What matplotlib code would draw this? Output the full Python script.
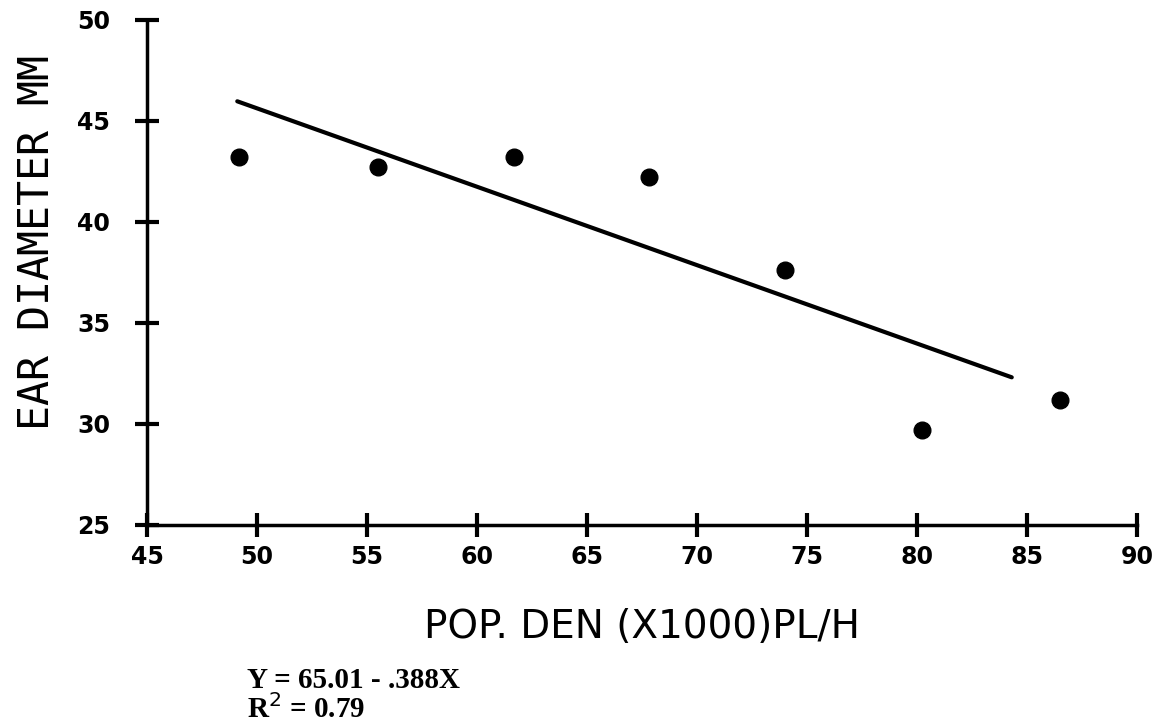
import matplotlib
matplotlib.use("Agg")
import matplotlib.pyplot as plt
import numpy as np

# population density (x1000 plants/ha) and ear diameter (mm)
pop_den = [49.2, 55.5, 61.7, 67.8, 74.0, 80.2, 86.5]
ear_diam = [43.2, 42.7, 43.2, 42.2, 37.6, 29.7, 31.2]

# fitted line Y = 65.01 - .388X drawn over the data range
intercept = 65.01
slope = -0.388
fit_x = [49.1, 84.3]

x_ticks = [45, 50, 55, 60, 65, 70, 75, 80, 85, 90]
y_ticks = [25, 30, 35, 40, 45, 50]

fig = plt.figure(figsize=(11.58, 7.27), dpi=100)
ax = fig.add_axes([0.127, 0.278, 0.855, 0.695])

ax.plot(pop_den, ear_diam, "o", color="black", markersize=12)
fx = np.array(fit_x)
ax.plot(fx, intercept + slope * fx, color="black", linewidth=3, solid_capstyle="round")

ax.set_xlim(45, 90)
ax.set_ylim(25, 50)
ax.set_xticks(x_ticks)
ax.set_yticks(y_ticks)
ax.spines["top"].set_visible(False)
ax.spines["right"].set_visible(False)
for s in ["left", "bottom"]:
    ax.spines[s].set_linewidth(2.5)
ax.tick_params(direction="inout", length=17, width=3, labelsize=17)
ax.tick_params(axis="x", pad=6)
ax.tick_params(axis="y", pad=18)
for lab in ax.get_xticklabels() + ax.get_yticklabels():
    lab.set_fontweight("bold")

ax.set_ylabel("EAR DIAMETER MM", fontsize=30, family="DejaVu Sans Mono",
              fontweight="light")
ax.yaxis.set_label_coords(-0.09, 0.558)
ax.set_xlabel("POP. DEN (X1000)PL/H", fontsize=28, labelpad=28)

fig.text(0.213, 0.012, "Y = 65.01 - .388X\nR$^2$ = 0.79", fontsize=21,
         family="Liberation Serif", fontweight="bold", linespacing=1.0)

fig.savefig("out.png", dpi=100)
